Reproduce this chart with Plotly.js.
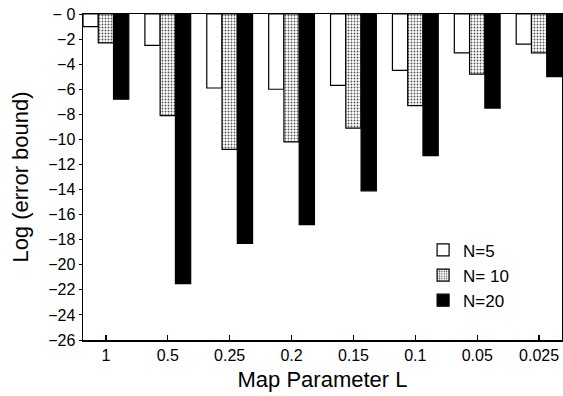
<!DOCTYPE html>
<html><head><meta charset="utf-8">
<script src="https://cdn.plot.ly/plotly-3.0.1.min.js"></script>
<style>body{margin:0;padding:0;background:#fff}#chart{width:563px;height:396px}</style>
</head><body><div id="chart"></div>
<script>
const categories = ["1", "0.5", "0.25", "0.2", "0.15", "0.1", "0.05", "0.025"];
const n5 = [-1.0, -2.5, -5.9, -6.0, -5.7, -4.5, -3.1, -2.4];
const n10 = [-2.3, -8.1, -10.8, -10.2, -9.1, -7.3, -4.8, -3.1];
const n20 = [-6.8, -21.5, -18.3, -16.8, -14.1, -11.3, -7.5, -5.0];
const yTickVals = [0, -2, -4, -6, -8, -10, -12, -14, -16, -18, -20, -22, -24, -26];
const yTickText = ["\u2212 0", "\u22122", "\u22124", "\u22126", "\u22128", "\u221210", "\u221212", "\u221214", "\u221216", "\u221218", "\u221220", "\u221222", "\u221224", "\u221226"];

const idx = categories.map((c, i) => i);
const font = "Liberation Sans, Arial, sans-serif";
const traces = [
  {type: "bar", name: "N=5", x: idx, y: n5,
   marker: {color: "#ffffff", line: {color: "#000", width: 1.2}}},
  {type: "bar", name: "N= 10", x: idx, y: n10,
   marker: {color: "#ffffff", line: {color: "#000", width: 1.2},
            pattern: {shape: ".", fgcolor: "#555", bgcolor: "#fff", size: 3, solidity: 0.3}}},
  {type: "bar", name: "N=20", x: idx, y: n20,
   marker: {color: "#000000", line: {color: "#000", width: 1.2}}}
];
const layout = {
  width: 563, height: 396,
  margin: {l: 83, r: 1, t: 14, b: 56},
  barmode: "group", bargap: 0.26, bargroupgap: 0,
  paper_bgcolor: "#fff", plot_bgcolor: "#fff",
  font: {family: font, color: "#000", size: 14},
  showlegend: true,
  legend: {x: 0.71, y: 0.33, xanchor: "left", yanchor: "top", bgcolor: "rgba(0,0,0,0)",
           font: {size: 17, family: font}, tracegroupgap: 0, itemwidth: 30},
  xaxis: {
    range: [-0.37, 7.37], tickvals: idx, ticktext: categories,
    showline: true, linecolor: "#000", linewidth: 1.5, mirror: true,
    ticks: "inside", ticklen: 5, tickcolor: "#000", tickwidth: 1.2,
    showgrid: false, zeroline: false,
    tickfont: {size: 16, family: font},
    title: {text: "Map Parameter L", font: {size: 22, family: font}, standoff: 9}
  },
  yaxis: {
    range: [-26, 0], tickvals: yTickVals, ticktext: yTickText,
    showline: true, linecolor: "#000", linewidth: 1.5, mirror: true,
    ticks: "outside", ticklen: 3, tickcolor: "#000",
    showgrid: false, zeroline: false,
    tickfont: {size: 16, family: font},
    title: {text: "Log (error bound)", font: {size: 22, family: font}, standoff: 13}
  }
};
Plotly.newPlot("chart", traces, layout, {displayModeBar: false, staticPlot: true});
</script></body></html>
